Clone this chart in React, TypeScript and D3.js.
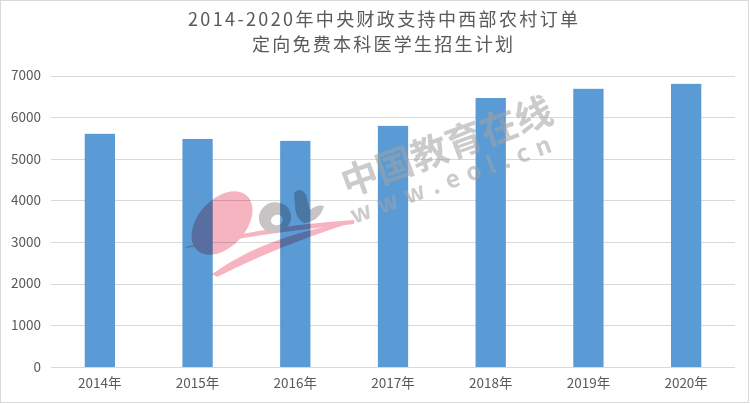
import React from "react";
import * as d3 from "d3";

const years = ["2014年", "2015年", "2016年", "2017年", "2018年", "2019年", "2020年"];
const values = [5600, 5475, 5430, 5790, 6460, 6680, 6800];
const yTicks = [0, 1000, 2000, 3000, 4000, 5000, 6000, 7000];
const titleLines = ["2014-2020年中央财政支持中西部农村订单", "定向免费本科医学生招生计划"];
const watermarkMain = "中国教育在线";
const watermarkSub = "w w w . e o l . c n";

const W = 750;
const H = 404;
const FONT = "'Noto Sans CJK SC', 'Noto Sans', sans-serif";

export default function App() {
  const x = d3.scaleBand<string>().domain(years).range([51, 735]).paddingInner(0.69).paddingOuter(0.345);
  const y = d3.scaleLinear().domain([0, 7000]).range([367, 75.5]);

  return (
    <svg
      width={W}
      height={H}
      viewBox={`0 0 ${W} ${H}`}
      style={{ position: "absolute", left: 0, top: 0, background: "#fff" }}
    >
      <rect x={0.5} y={0.5} width={W - 2} height={H - 2} fill="#fff" stroke="#d9d9d9" />

      {/* title */}
      <text x={383} y={25.5} textAnchor="middle" fontFamily={FONT} fontSize={18} fill="#595959" textLength={390} lengthAdjust="spacing">
        {titleLines[0]}
      </text>
      <text x={382.5} y={51} textAnchor="middle" fontFamily={FONT} fontSize={18} fill="#595959" textLength={261} lengthAdjust="spacing">
        {titleLines[1]}
      </text>

      {/* gridlines */}
      {yTicks.map((t) => (
        <line key={t} x1={51} x2={735} y1={Math.round(y(t)) + 0.5} y2={Math.round(y(t)) + 0.5} stroke="#d9d9d9" strokeWidth={1} />
      ))}

      {/* y labels */}
      {yTicks.map((t) => (
        <text key={"l" + t} x={41} y={y(t)} dy="0.35em" textAnchor="end" fontFamily={FONT} fontSize={13.5} fill="#595959">
          {t}
        </text>
      ))}

      {/* bars */}
      {years.map((yr, i) => (
        <rect key={yr} x={x(yr)} y={y(values[i])} width={x.bandwidth()} height={y(0) - y(values[i])} fill="#5b9bd5" />
      ))}

      {/* x labels */}
      {years.map((yr) => (
        <text key={"x" + yr} x={(x(yr) as number) + x.bandwidth() / 2} y={388} textAnchor="middle" fontFamily={FONT} fontSize={13.5} fill="#595959">
          {yr}
        </text>
      ))}

      {/* watermark text */}
      <g opacity={0.55}>
        <text x={347} y={197} transform="rotate(-20 347 197)" fontFamily={FONT} fontSize={37} fontWeight={700} fill="#a2a2a2" textLength={222} lengthAdjust="spacing">
          {watermarkMain}
        </text>
        <text x={354} y={224} transform="rotate(-20 354 224)" fontFamily={FONT} fontSize={24} fontWeight={700} fill="#a2a2a2" textLength={212} lengthAdjust="spacing">
          {watermarkSub}
        </text>
      </g>

      {/* logo watermark */}
      <g style={{ mixBlendMode: "multiply" }}>
        <ellipse cx={222} cy={223} rx={37} ry={24} transform="rotate(-48 222 223)" fill="#f6b3c0" />
        <path d="M186,247 Q262,226 354,220 L354,224 Q262,233 186,248 Z" fill="#f6b3c0" />
        <path d="M212,274 Q268,234 357,221 Q282,244 217,277 Z" fill="#f6b3c0" />
        <path
          d="M259,220 a16,15 -20 1,0 32,-5 a16,15 -20 1,0 -32,5 Z M271,221 a6,5 -20 1,0 12,-2 a6,5 -20 1,0 -12,2 Z"
          fill="#c9c4c4"
          fillRule="evenodd"
        />
        <path d="M294,193 Q301,186 306,195 L310,210 Q317,204 324,206 Q320,221 304,223 Q296,219 295,207 Z" fill="#c9c4c4" />
      </g>
    </svg>
  );
}
